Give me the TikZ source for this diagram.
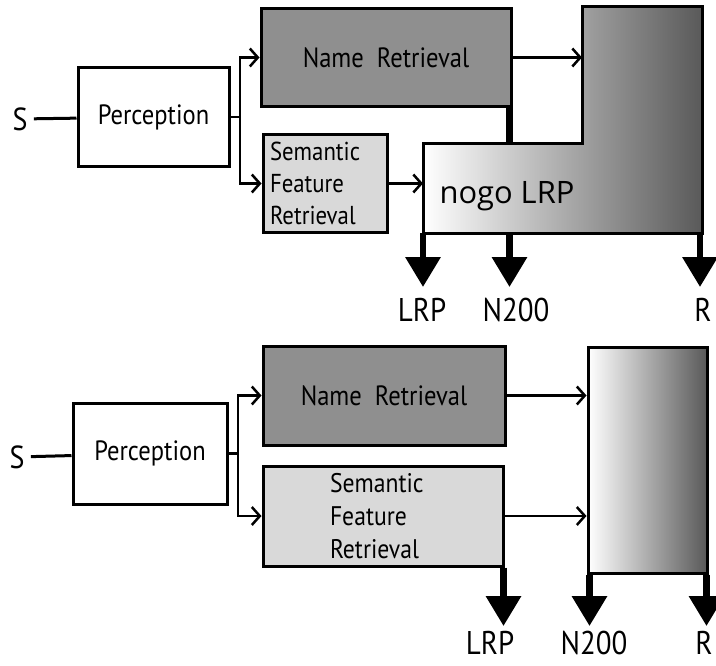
\documentclass[tikz,border=0pt]{standalone}
\usepackage{fontspec}
\setmainfont{PT Sans}[FakeStretch=0.88]
\newfontfamily\nogofont{Open Sans}
\usetikzlibrary{arrows.meta}
\tikzset{
  box/.style= {draw, line width=3bp, inner sep=0pt, font=\fontsize{28}{33}\selectfont},
  namebox/.style= {box, fill=black!44},
  featbox/.style= {box, fill=black!15, align=left},
  respbox/.style= {draw, line width=3bp, left color=white, right color=black!65},
  flow/.style= {line width=2.5bp, -{Straight Barb[length=8bp,width=18bp]}},
  outarr/.style= {line width=6.5bp, -{Triangle[length=30bp,width=34bp]}},
  lbl/.style= {anchor=north, inner sep=0pt, font=\fontsize{33}{33}\selectfont},
  stim/.style= {font=\fontsize{32}{32}\selectfont},
}

\begin{document}
\begin{tikzpicture}[x=1bp, y=-1bp]
  \useasboundingbox (0,0) rectangle (716,666);
  % go trial
  \node [stim] (s1) at (20,119) {S} ;
  \node [box, minimum width=151bp, minimum height=98bp] (per1) at (153.5,117) {Perception} ;
  \node [namebox, minimum width=250bp, minimum height=97bp] (nr1) at (386,57.5) {Name\ \ Retrieval} ;
  \node [featbox, minimum width=124bp, minimum height=97bp, text width=110bp,
         font=\fontsize{26}{32}\selectfont] (sfr1) at (325,183.5) {Semantic\\Feature\\Retrieval} ;
  \draw [line width=6.5bp] ([xshift=-3bp]nr1.south east) -- ++(0,37) coordinate (stem1) ;
  \draw [respbox] (423,233) coordinate (lbot1) -- (423,143) -- (582,143)
    -- (582,7) coordinate (ltop1) -- (702,7) -- (702,233) coordinate (rbot1) -- cycle ;
  \node [font=\nogofont\fontsize{31}{31}\selectfont] (nogo1) at (507,196) {nogo LRP} ;
  \coordinate (br1) at (240,117) ;

  \draw [line width=3bp, shorten <=3bp] (s1) -- (per1) ;
  \draw [line width=2.5bp] (per1.east) -- (br1) ;
  \draw [flow] (br1) |- (nr1.west) ;
  \draw [flow] (br1) |- (sfr1.west) ;
  \draw [flow] (nr1.east) -- (nr1.east -| ltop1) ;
  \draw [flow] (sfr1.east) -- (sfr1.east -| lbot1) ;

  \node [lbl] (lrp1) at (422,298) {LRP} ;
  \node [lbl] (n2001) at (516,298) {N200} ;
  \node [lbl] (r1) at (703,298) {R} ;
  \draw [outarr] (lbot1) -- ([yshift=11bp]lbot1 |- lrp1.north) ;
  \draw [outarr] (stem1 |- lbot1) -- ([yshift=11bp]stem1 |- n2001.north) ;
  \draw [outarr] ([xshift=-2bp]rbot1) -- ([yshift=11bp,xshift=-2bp]rbot1 |- r1.north) ;

  % nogo trial
  \node [stim] (s2) at (17,457) {S} ;
  \node [box, minimum width=154bp, minimum height=101bp] (per2) at (150,453.5) {Perception} ;
  \node [namebox, minimum width=242bp, minimum height=99bp] (nr2) at (384,395.5) {Name\ \ Retrieval} ;
  \node [featbox, minimum width=240bp, minimum height=100bp, text width=106bp,
         font=\fontsize{27}{33.5}\selectfont] (sfr2) at (383,516) {Semantic\\Feature\\Retrieval} ;
  \node [respbox, minimum width=119bp, minimum height=226bp] (resp2) at (647.5,460) {} ;
  \coordinate (br2) at (238,453.5) ;

  \draw [line width=3bp, shorten <=3bp] (s2) -- (per2) ;
  \draw [line width=2.5bp] (per2.east) -- (br2) ;
  \draw [flow] (br2) |- (nr2.west) ;
  \draw [flow] (br2) |- (sfr2.west) ;
  \draw [flow] (nr2.east) -- (nr2.east -| resp2.west) ;
  \draw [flow] (sfr2.east) -- (sfr2.east -| resp2.west) ;

  \node [lbl] (lrp2) at (490,631) {LRP} ;
  \node [lbl] (n2002) at (594,631) {N200} ;
  \node [lbl] (r2) at (704,631) {R} ;
  \draw [outarr] ([xshift=-1bp]sfr2.south east) -- ([yshift=5bp,xshift=-1bp]sfr2.south east |- lrp2.north) ;
  \draw [outarr] ([xshift=3bp]resp2.south west) -- ([yshift=5bp,xshift=3bp]resp2.south west |- n2002.north) ;
  \draw [outarr] ([xshift=-2bp]resp2.south east) -- ([yshift=5bp,xshift=-2bp]resp2.south east |- r2.north) ;
\end{tikzpicture}
\end{document}
